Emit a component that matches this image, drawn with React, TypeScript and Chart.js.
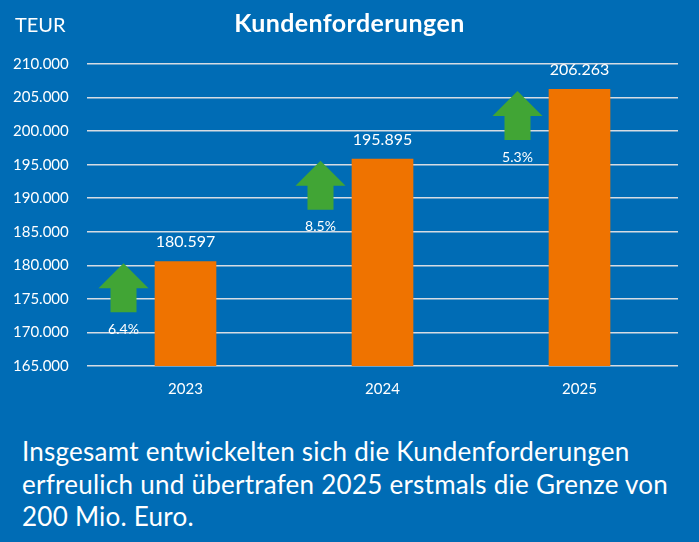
import React, { useEffect, useRef } from "react";
import { Chart, registerables } from "chart.js";

Chart.register(...registerables);

const categories = ["2023", "2024", "2025"];
const values = [180597, 195895, 206263];
const growth = ["6.4%", "8.5%", "5.3%"];
const yMin = 165000;
const yMax = 210000;
const yStep = 5000;

const BG = "#006CB5";
const BAR = "#EF7300";
const ARROW = "#41A535";
const GRID = "#D5DCE4";
const FONT = "Lato, 'Open Sans', sans-serif";

const fmt = (v: number) => {
  const s = Math.round(v).toString();
  return s.replace(/\B(?=(\d{3})+(?!\d))/g, ".");
};

const overlayPlugin = {
  id: "overlay",
  afterDatasetsDraw(chart: any) {
    const ctx = chart.ctx;
    const xs = chart.scales.x;
    const ys = chart.scales.y;
    ctx.save();
    values.forEach((v, i) => {
      const cx = xs.getPixelForValue(i);
      const top = ys.getPixelForValue(v);
      ctx.fillStyle = "#FFFFFF";
      ctx.font = `16px ${FONT}`;
      ctx.textAlign = "center";
      ctx.textBaseline = "middle";
      ctx.fillText(fmt(v), cx, top - 19);
      const ax = cx - 62;
      const tip = top + 2;
      ctx.fillStyle = ARROW;
      ctx.beginPath();
      ctx.moveTo(ax, tip);
      ctx.lineTo(ax + 25, tip + 25);
      ctx.lineTo(ax + 13, tip + 25);
      ctx.lineTo(ax + 13, tip + 49);
      ctx.lineTo(ax - 13, tip + 49);
      ctx.lineTo(ax - 13, tip + 25);
      ctx.lineTo(ax - 25, tip + 25);
      ctx.closePath();
      ctx.fill();
      ctx.fillStyle = "#FFFFFF";
      ctx.font = `14px ${FONT}`;
      ctx.fillText(growth[i], ax, tip + 66);
    });
    ctx.restore();
  },
};

export default function App() {
  const ref = useRef<HTMLCanvasElement | null>(null);
  useEffect(() => {
    if (!ref.current) return;
    const chart = new Chart(ref.current, {
      type: "bar",
      data: {
        labels: categories,
        datasets: [
          {
            data: values,
            backgroundColor: BAR,
            borderWidth: 0,
            categoryPercentage: 1,
            barPercentage: 0.313,
          },
        ],
      },
      options: {
        animation: false,
        responsive: true,
        maintainAspectRatio: false,
        layout: { padding: { left: 13, right: 21, top: 64, bottom: 0 } },
        plugins: {
          legend: { display: false },
          tooltip: { enabled: false },
          title: { display: false },
        },
        scales: {
          x: {
            grid: {
              display: true,
              drawOnChartArea: false,
              drawTicks: true,
              tickLength: 14,
              color: "rgba(0,0,0,0)",
            },
            border: { display: false },
            ticks: { color: "#FFFFFF", font: { family: FONT, size: 15 }, padding: 0 },
          },
          y: {
            min: yMin,
            max: yMax,
            grid: { color: GRID, lineWidth: 1.5, drawTicks: false },
            border: { display: false },
            afterFit: (scale: any) => {
              scale.width = 74;
            },
            ticks: {
              stepSize: yStep,
              color: "#FFFFFF",
              font: { family: FONT, size: 15 },
              padding: 0,
              crossAlign: "far",
              callback: (v: any) => fmt(Number(v)),
            },
          },
        },
      },
      plugins: [overlayPlugin],
    });
    return () => chart.destroy();
  }, []);

  return (
    <div
      style={{
        position: "absolute",
        left: 0,
        top: 0,
        width: 699,
        height: 542,
        background: BG,
        overflow: "hidden",
        fontFamily: FONT,
        color: "#FFFFFF",
      }}
    >
      <div style={{ position: "absolute", left: 0, top: 0, width: 699, height: 398 }}>
        <canvas ref={ref} />
      </div>
      <div style={{ position: "absolute", left: 15, top: 12, fontSize: 20, lineHeight: "24px" }}>TEUR</div>
      <div
        style={{
          position: "absolute",
          left: 0,
          width: 699,
          top: 7,
          textAlign: "center",
          fontSize: 25,
          letterSpacing: "0.4px",
          fontWeight: 700,
          lineHeight: "30px",
        }}
      >
        Kundenforderungen
      </div>
      <p
        style={{
          position: "absolute",
          left: 22,
          top: 435,
          width: 677,
          margin: 0,
          fontSize: 26,
          letterSpacing: "0.25px",
          lineHeight: "32.5px",
          whiteSpace: "nowrap",
        }}
      >
        Insgesamt entwickelten sich die Kundenforderungen
        <br />
        erfreulich und übertrafen 2025 erstmals die Grenze von
        <br />
        200 Mio. Euro.
      </p>
    </div>
  );
}
